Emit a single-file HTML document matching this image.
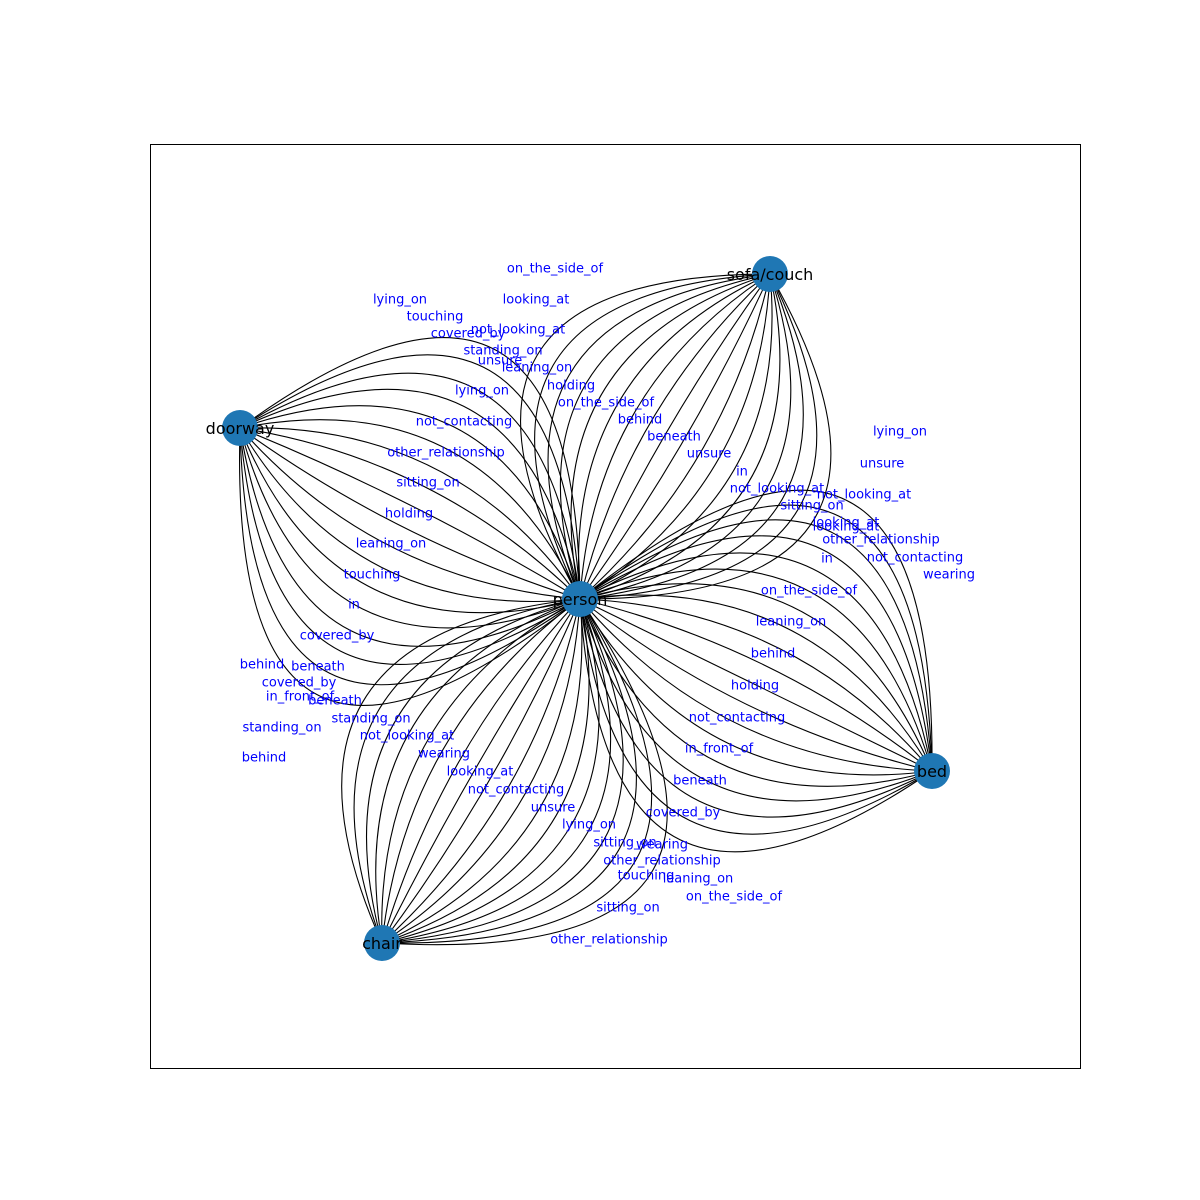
<!DOCTYPE html>
<html><head><meta charset="utf-8"><style>
html,body{margin:0;padding:0;background:#fff}
svg{display:block}
</style></head><body>
<svg id="chart" width="1200" height="1200" xmlns="http://www.w3.org/2000/svg">
<rect x="0" y="0" width="1200" height="1200" fill="#fff"/>
<g id="edges"></g>
<g id="nodes"></g>
<g id="labels"></g>
<rect x="150.5" y="144.5" width="930" height="924" fill="none" stroke="#000" stroke-width="1"/>
</svg>
<script>
const nodeNames = ["person","sofa/couch","doorway","bed","chair"];
const nodeX = [0, 1.90, -3.40, 3.52, -1.98];
const nodeY = [0, 3.25, 1.71, -1.72, -3.44];

const pairFrom = [0, 0, 0, 0];
const pairTo   = [2, 1, 3, 4];
const radsDoorway = [0.97,0.86,0.74,0.63,0.51,0.39,0.27,0.16,0.04,-0.08,-0.2,-0.32,-0.44,-0.56,-0.69,-0.81,-0.94,-1.07];
const radsSofa = [-0.85,-0.75,-0.65,-0.55,-0.45,-0.35,-0.25,-0.15,-0.05,0.05,0.16,0.26,0.36,0.46,0.56,0.66,0.76,0.86];
const radsBed = [-1.05,-0.96,-0.87,-0.77,-0.66,-0.55,-0.44,-0.33,-0.22,-0.11,0.0,0.11,0.22,0.33,0.44,0.55,0.66,0.77,0.88];
const radsChair = [0.69,0.6,0.5,0.41,0.31,0.22,0.12,0.03,-0.06,-0.16,-0.25,-0.35,-0.44,-0.53,-0.62,-0.71,-0.8,-0.9,-1.0];
const pairRads = [radsDoorway, radsSofa, radsBed, radsChair];

const labelText = ["on_the_side_of","looking_at","lying_on","touching","not_looking_at","covered_by","standing_on","unsure","leaning_on","lying_on","holding","on_the_side_of","behind","not_contacting","beneath","unsure","other_relationship","in","sitting_on","not_looking_at","not_looking_at","sitting_on","holding","looking_at","looking_at","other_relationship","leaning_on","not_contacting","in","touching","wearing","on_the_side_of","in","leaning_on","covered_by","behind","behind","beneath","covered_by","holding","in_front_of","beneath","not_contacting","standing_on","standing_on","not_looking_at","in_front_of","wearing","behind","looking_at","beneath","not_contacting","unsure","covered_by","lying_on","sitting_on","wearing","other_relationship","touching","leaning_on","on_the_side_of","sitting_on","other_relationship","lying_on","unsure"];
const labelX = [-0.25,-0.44,-1.80,-1.45,-0.62,-1.12,-0.77,-0.80,-0.43,-0.98,-0.09,0.26,0.60,-1.16,0.94,1.29,-1.34,1.62,-1.52,1.97,2.84,2.32,-1.71,2.66,2.66,3.01,-1.89,3.35,2.47,-2.08,3.69,2.29,-2.26,2.11,-2.43,1.93,-3.18,-2.62,-2.81,1.75,-2.80,-2.45,1.57,-2.09,-2.98,-1.73,1.39,-1.36,-3.16,-1.00,1.20,-0.64,-0.27,1.03,0.09,0.45,0.82,0.82,0.66,1.18,1.54,0.48,0.29,3.20,3.02];
const labelY = [3.31,3.00,3.00,2.83,2.70,2.66,2.49,2.39,2.32,2.09,2.14,1.97,1.80,1.78,1.63,1.46,1.47,1.28,1.17,1.11,1.05,0.94,0.86,0.77,0.73,0.60,0.56,0.42,0.41,0.25,0.25,0.09,-0.05,-0.22,-0.36,-0.54,-0.65,-0.67,-0.83,-0.86,-0.97,-1.01,-1.18,-1.19,-1.28,-1.36,-1.49,-1.54,-1.58,-1.72,-1.81,-1.90,-2.08,-2.13,-2.25,-2.43,-2.45,-2.61,-2.76,-2.79,-2.97,-3.08,-3.40,1.68,1.36];

function sx(x){ return 580 + 100*x; }
function sy(y){ return 599 - 100*y; }
const NS = "http://www.w3.org/2000/svg";
const edgesG = document.getElementById('edges');
const nodesG = document.getElementById('nodes');
const labelsG = document.getElementById('labels');

for (let p = 0; p < pairFrom.length; p++) {
  const ax = sx(nodeX[pairFrom[p]]), ay = sy(nodeY[pairFrom[p]]);
  const bx = sx(nodeX[pairTo[p]]), by = sy(nodeY[pairTo[p]]);
  const dx = bx - ax, dy = by - ay;
  const mx = (ax + bx) / 2, my = (ay + by) / 2;
  pairRads[p].forEach((r, i) => {
    const cx = mx - r * dy, cy = my + r * dx;
    const path = document.createElementNS(NS, 'path');
    path.setAttribute('d', `M${ax},${ay} Q${cx},${cy} ${bx},${by}`);
    path.setAttribute('fill', 'none');
    path.setAttribute('stroke', '#000');
    path.setAttribute('stroke-width', '1.1');
    
    
    edgesG.appendChild(path);
  });
}

nodeNames.forEach((n, i) => {
  const c = document.createElementNS(NS, 'circle');
  c.setAttribute('cx', sx(nodeX[i]));
  c.setAttribute('cy', sy(nodeY[i]));
  c.setAttribute('r', 18);
  c.setAttribute('fill', '#1f77b4');
  
  
  nodesG.appendChild(c);
  const t = document.createElementNS(NS, 'text');
  t.setAttribute('x', sx(nodeX[i]));
  t.setAttribute('y', sy(nodeY[i]) + 6);
  t.setAttribute('text-anchor', 'middle');
  t.setAttribute('font-family', 'DejaVu Sans, Liberation Sans, sans-serif');
  t.setAttribute('font-size', '16');
  t.setAttribute('fill', '#000');
  
  
  t.textContent = n;
  nodesG.appendChild(t);
});

labelText.forEach((s, i) => {
  const t = document.createElementNS(NS, 'text');
  t.setAttribute('x', sx(labelX[i]));
  t.setAttribute('y', sy(labelY[i]) + 4.5);
  t.setAttribute('text-anchor', 'middle');
  t.setAttribute('font-family', 'DejaVu Sans, Liberation Sans, sans-serif');
  t.setAttribute('font-size', '13');
  t.setAttribute('fill', '#0000ff');
  
  
  t.textContent = s;
  labelsG.appendChild(t);
});
</script>
</body></html>
